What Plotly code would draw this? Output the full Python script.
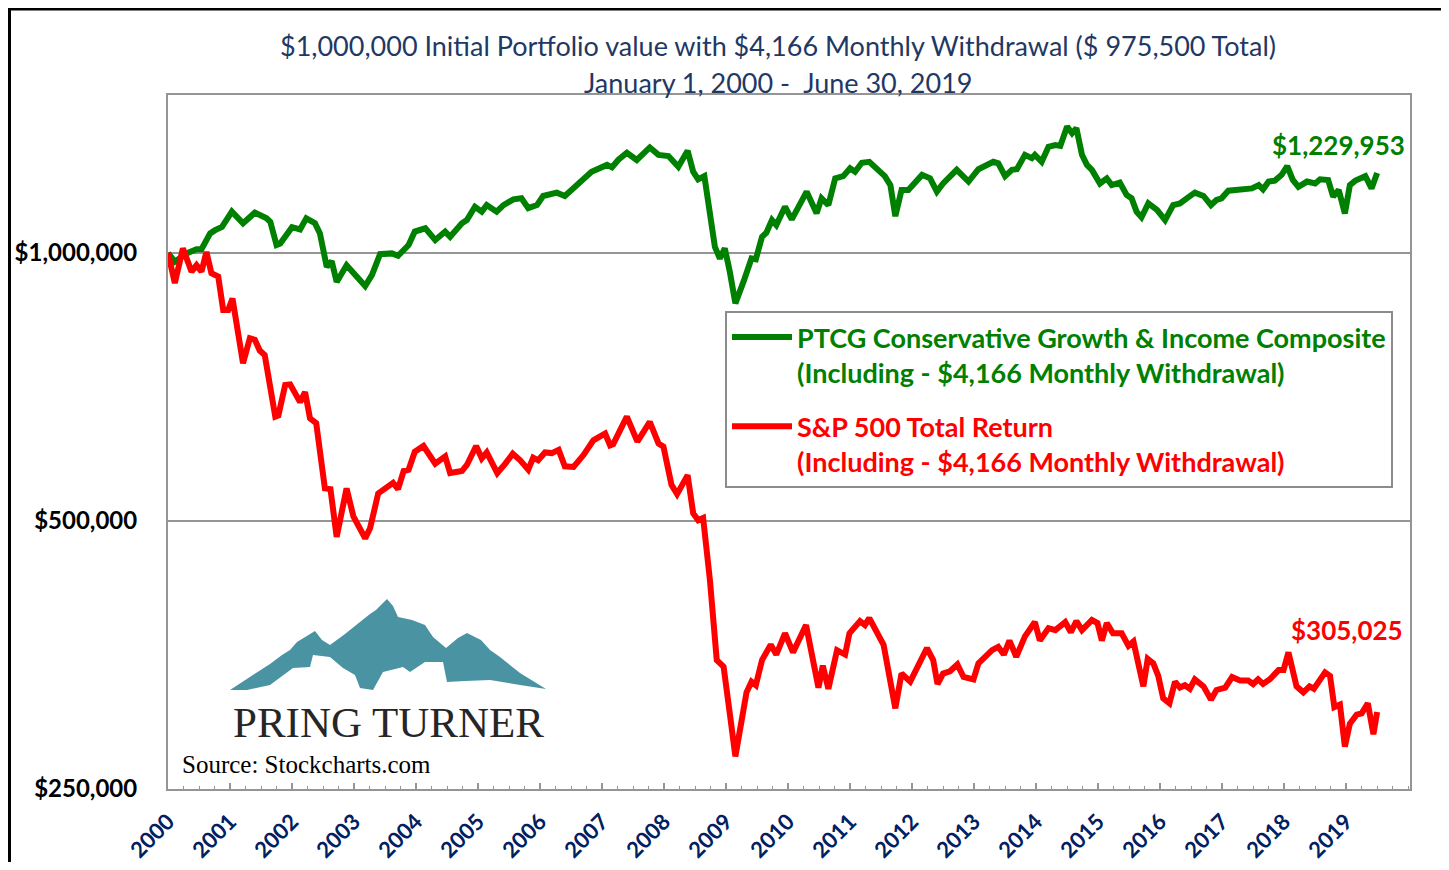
import plotly.graph_objects as go

# ---------------- data ----------------
green_years = [2000.00, 2000.11, 2000.30, 2000.46, 2000.54, 2000.68, 2000.76, 2000.87, 2001.03, 2001.21,
               2001.40, 2001.59, 2001.65, 2001.75, 2001.81, 2002.00, 2002.13, 2002.23, 2002.37, 2002.45,
               2002.56, 2002.64, 2002.72, 2002.88, 2003.18, 2003.29, 2003.42, 2003.61, 2003.71, 2003.88,
               2003.98, 2004.15, 2004.31, 2004.47, 2004.55, 2004.74, 2004.82, 2004.95, 2005.06, 2005.14,
               2005.30, 2005.41, 2005.57, 2005.70, 2005.81, 2005.95, 2006.05, 2006.27, 2006.40, 2006.65,
               2006.83, 2007.08, 2007.16, 2007.26, 2007.40, 2007.56, 2007.77, 2007.91, 2008.07, 2008.23,
               2008.38, 2008.47, 2008.55, 2008.65, 2008.74, 2008.82, 2008.90, 2008.98, 2009.06, 2009.15,
               2009.28, 2009.41, 2009.48, 2009.58, 2009.65, 2009.74, 2009.81, 2009.95, 2010.06, 2010.30,
               2010.46, 2010.54, 2010.65, 2010.76, 2010.89, 2011.00, 2011.08, 2011.19, 2011.31, 2011.56,
               2011.65, 2011.73, 2011.83, 2011.94, 2012.16, 2012.29, 2012.40, 2012.50, 2012.72, 2012.91,
               2013.07, 2013.31, 2013.39, 2013.50, 2013.61, 2013.69, 2013.82, 2013.93, 2013.98, 2014.09,
               2014.20, 2014.31, 2014.39, 2014.50, 2014.58, 2014.65, 2014.74, 2014.82, 2014.90, 2015.03,
               2015.14, 2015.22, 2015.35, 2015.46, 2015.54, 2015.62, 2015.70, 2015.81, 2015.95, 2016.08,
               2016.21, 2016.32, 2016.43, 2016.56, 2016.70, 2016.82, 2016.91, 2016.99, 2017.10, 2017.29,
               2017.48, 2017.59, 2017.66, 2017.75, 2017.85, 2017.96, 2018.05, 2018.14, 2018.23, 2018.37,
               2018.50, 2018.58, 2018.71, 2018.79, 2018.88, 2018.98, 2019.06, 2019.15, 2019.31, 2019.41,
               2019.50]
# portfolio value in thousands of dollars
green_values_k = [1000, 978, 999, 1010, 1010, 1052, 1061, 1070, 1113, 1080,
                  1110, 1094, 1084, 1021, 1025, 1069, 1063, 1094, 1080, 1052,
                  965, 979, 928, 969, 918, 945, 997, 999, 993, 1021,
                  1057, 1066, 1034, 1057, 1043, 1080, 1089, 1127, 1113, 1132,
                  1113, 1132, 1149, 1152, 1123, 1132, 1159, 1169, 1159, 1203,
                  1234, 1256, 1248, 1272, 1296, 1272, 1314, 1289, 1285, 1250,
                  1303, 1234, 1210, 1220, 1098, 1016, 986, 1012, 953, 878,
                  928, 986, 984, 1043, 1054, 1089, 1075, 1127, 1091, 1172,
                  1108, 1152, 1132, 1213, 1220, 1245, 1234, 1263, 1266, 1220,
                  1192, 1100, 1177, 1177, 1224, 1213, 1172, 1197, 1240, 1203,
                  1242, 1266, 1261, 1220, 1240, 1242, 1289, 1278, 1289, 1266,
                  1316, 1322, 1319, 1387, 1363, 1381, 1289, 1256, 1240, 1197,
                  1213, 1192, 1200, 1162, 1152, 1113, 1097, 1137, 1118, 1089,
                  1132, 1137, 1152, 1169, 1159, 1132, 1147, 1152, 1175, 1179,
                  1182, 1192, 1179, 1203, 1206, 1224, 1252, 1208, 1187, 1203,
                  1197, 1210, 1208, 1157, 1177, 1108, 1192, 1206, 1220, 1182,
                  1229.953]

red_years = [2000.00, 2000.11, 2000.24, 2000.38, 2000.46, 2000.54, 2000.62, 2000.70, 2000.81, 2000.89,
             2000.97, 2001.04, 2001.21, 2001.32, 2001.40, 2001.48, 2001.56, 2001.73, 2001.78, 2001.89,
             2001.97, 2002.13, 2002.21, 2002.29, 2002.39, 2002.53, 2002.62, 2002.72, 2002.88, 2002.99,
             2003.18, 2003.26, 2003.39, 2003.47, 2003.63, 2003.71, 2003.80, 2003.88, 2003.98, 2004.12,
             2004.31, 2004.47, 2004.55, 2004.74, 2004.82, 2004.97, 2005.06, 2005.14, 2005.31, 2005.44,
             2005.56, 2005.68, 2005.81, 2005.89, 2005.97, 2006.08, 2006.19, 2006.30, 2006.40, 2006.54,
             2006.70, 2006.86, 2007.05, 2007.13, 2007.18, 2007.40, 2007.57, 2007.77, 2007.91, 2007.99,
             2008.12, 2008.21, 2008.38, 2008.47, 2008.55, 2008.63, 2008.74, 2008.85, 2008.96, 2009.06,
             2009.15, 2009.33, 2009.41, 2009.48, 2009.58, 2009.72, 2009.81, 2009.95, 2010.08, 2010.29,
             2010.38, 2010.49, 2010.56, 2010.65, 2010.79, 2010.92, 2010.99, 2011.16, 2011.24, 2011.31,
             2011.54, 2011.63, 2011.73, 2011.83, 2011.97, 2012.24, 2012.34, 2012.41, 2012.50, 2012.61,
             2012.73, 2012.83, 2012.99, 2013.07, 2013.29, 2013.39, 2013.48, 2013.57, 2013.68, 2013.82,
             2013.98, 2014.06, 2014.20, 2014.31, 2014.47, 2014.56, 2014.65, 2014.74, 2014.90, 2014.99,
             2015.06, 2015.14, 2015.24, 2015.38, 2015.49, 2015.57, 2015.65, 2015.73, 2015.80, 2015.89,
             2015.97, 2016.05, 2016.15, 2016.24, 2016.32, 2016.40, 2016.48, 2016.56, 2016.70, 2016.82,
             2016.91, 2017.05, 2017.16, 2017.29, 2017.42, 2017.50, 2017.58, 2017.66, 2017.77, 2017.91,
             2017.99, 2018.07, 2018.20, 2018.31, 2018.41, 2018.48, 2018.66, 2018.74, 2018.81, 2018.90,
             2018.98, 2019.06, 2019.17, 2019.25, 2019.35, 2019.44, 2019.50]
red_values_k = [1000, 925, 1012, 953, 969, 953, 1003, 949, 941, 863,
                863, 889, 752, 802, 799, 777, 768, 655, 657, 711,
                712, 680, 698, 652, 644, 544, 543, 480, 544, 506,
                478, 491, 537, 542, 552, 543, 569, 571, 598, 607,
                580, 591, 566, 569, 578, 607, 588, 597, 566, 580,
                595, 585, 571, 589, 585, 597, 596, 601, 576, 575,
                593, 616, 627, 608, 610, 655, 614, 646, 611, 606,
                549, 536, 563, 510, 501, 504, 429, 349, 343, 304,
                272, 321, 330, 327, 349, 363, 354, 374, 356, 382,
                358, 325, 344, 324, 358, 354, 374, 386, 382, 389,
                363, 338, 308, 337, 330, 360, 349, 328, 337, 339,
                345, 334, 332, 346, 358, 361, 354, 367, 352, 371,
                385, 367, 379, 377, 385, 375, 386, 377, 387, 384,
                367, 384, 374, 374, 362, 366, 343, 326, 350, 346,
                335, 316, 312, 330, 325, 327, 324, 332, 326, 315,
                323, 325, 334, 331, 331, 328, 332, 328, 332, 340,
                340, 356, 326, 321, 326, 324, 338, 335, 309, 311,
                279, 296, 303, 304, 312, 288, 305.025]

green_name = "PTCG Conservative Growth & Income Composite<br>(Including - $4,166 Monthly Withdrawal)"
red_name = "S&P 500 Total Return<br>(Including - $4,166 Monthly Withdrawal)"
year_ticks = list(range(2000, 2020))
y_ticks = [250000, 500000, 1000000]
y_tick_labels = ["$250,000", "$500,000", "$1,000,000"]
title_line1 = "$1,000,000 Initial Portfolio value with $4,166 Monthly Withdrawal ($ 975,500 Total)"
title_line2 = "January 1, 2000 -  June 30, 2019"

assert len(green_years) == len(green_values_k)
assert len(red_years) == len(red_values_k)
green_values = [v * 1000 for v in green_values_k]
red_values = [v * 1000 for v in red_values_k]

GREEN = "#008000"
RED = "#FF0000"
NAVY = "#1F3864"
GRID = "#959595"

# the page body has an 8px margin; lay the figure out in page pixels
OFF = 8
W, H = 1449 - OFF, 870 - 2 * OFF
L, T = 168 - OFF, 95 - OFF
PW, PH = 1242, 694
R = W - L - PW
B = H - T - PH


def px(x):
    """page pixel x -> paper coordinate"""
    return (x - OFF - L) / PW


def py(y):
    """page pixel y -> paper coordinate"""
    return (T + PH - (y - OFF)) / PH


fig = go.Figure()
fig.add_trace(go.Scatter(x=green_years, y=green_values, mode="lines",
                         name=f"<span style='color:{GREEN}'>{green_name}</span>",
                         line=dict(color=GREEN, width=6), legendgroup="g"))
fig.add_trace(go.Scatter(x=red_years, y=red_values, mode="lines",
                         name=f"<span style='color:{RED}'>{red_name}</span>",
                         line=dict(color=RED, width=6), legendgroup="r"))

# final value labels
fig.add_annotation(x=px(1407), y=py(145), xref="paper", yref="paper", xanchor="right", yanchor="middle",
                   text=f"${green_values[-1]:,.0f}", showarrow=False,
                   font=dict(family="Lato", size=26, color=GREEN, weight="bold"))
fig.add_annotation(x=px(1405), y=py(630), xref="paper", yref="paper", xanchor="right", yanchor="middle",
                   text=f"${red_values[-1]:,.0f}", showarrow=False,
                   font=dict(family="Lato", size=26, color=RED, weight="bold"))

# title
fig.add_annotation(x=px(778), y=py(46), xref="paper", yref="paper", xanchor="center", yanchor="middle",
                   text=title_line1, showarrow=False, font=dict(family="Lato", size=27, color=NAVY))
fig.add_annotation(x=px(778), y=py(82), xref="paper", yref="paper", xanchor="center", yanchor="middle",
                   text=title_line2, showarrow=False, font=dict(family="Lato", size=27, color=NAVY))

# logo text and source
fig.add_annotation(x=px(388), y=py(722), xref="paper", yref="paper", xanchor="center", yanchor="middle",
                   text="PRING TURNER", showarrow=False,
                   font=dict(family="Liberation Serif", size=43, color="#262626"))
fig.add_annotation(x=px(180), y=py(764), xref="paper", yref="paper", xanchor="left", yanchor="middle",
                   text="Source: Stockcharts.com", showarrow=False,
                   font=dict(family="Liberation Serif", size=25, color="#000000"))

# mountain logo outline (decoration)
mountain = [(230, 690), (256, 673), (270, 664), (282, 655), (290, 650), (297, 642), (315, 631), (322, 640),
            (330, 645), (345, 634), (360, 622), (370, 614), (376, 610), (387, 599), (393, 606), (398, 617),
            (412, 620), (425, 625), (433, 637), (446, 648), (458, 638), (467, 633), (481, 640), (490, 650),
            (500, 657), (520, 673), (546, 689), (520, 685), (490, 680), (465, 681), (447, 682), (443, 662),
            (425, 662), (410, 672), (403, 667), (383, 672), (373, 690), (360, 688), (355, 675), (343, 668),
            (330, 657), (313, 655), (310, 667), (293, 668), (270, 685), (247, 690)]
path = "M " + " L ".join(f"{px(a):.5f},{py(b):.5f}" for a, b in mountain) + " Z"
fig.add_shape(type="path", path=path, xref="paper", yref="paper", fillcolor="#4A93A3",
              line=dict(width=0), layer="below")

# outer black frame
fig.add_shape(type="rect", xref="paper", yref="paper", x0=px(9.5), x1=px(1444), y0=py(900), y1=py(9),
              line=dict(color="black", width=3), layer="below")

fig.update_layout(
    width=W, height=H,
    margin=dict(l=L, r=R, t=T, b=B, autoexpand=False),
    paper_bgcolor="white", plot_bgcolor="white",
    showlegend=True,
    legend=dict(x=px(725), y=py(311), xanchor="left", yanchor="top", bgcolor="white",
                bordercolor="#8C8C8C", borderwidth=2, itemwidth=60, tracegroupgap=16, valign="top",
                font=dict(family="Lato", size=27, weight="bold")),
    xaxis=dict(range=[2000, 2020.03], tickmode="array", tickvals=year_ticks,
               ticktext=[str(y) for y in year_ticks], tickangle=-45,
               tickfont=dict(family="Lato", size=22, color="#002060", weight="bold"),
               ticks="inside", ticklen=6, tickwidth=1.5, tickcolor=GRID,
               minor=dict(dtick=0.25, ticks="inside", ticklen=3, tickcolor=GRID, tickwidth=1),
               showline=True, linecolor=GRID, linewidth=2, mirror=True,
               showgrid=False, zeroline=False, ticklabelstandoff=9),
    yaxis=dict(type="log", range=[5.39794, 6.1775], tickmode="array", tickvals=y_ticks,
               ticktext=y_tick_labels, ticks="",
               tickfont=dict(family="Lato", size=24, color="black", weight="bold"),
               showline=True, linecolor=GRID, linewidth=2, mirror=True,
               showgrid=True, gridcolor=GRID, gridwidth=1.5, zeroline=False,
               ticklabelstandoff=24),
)

fig.write_html("out.html")
